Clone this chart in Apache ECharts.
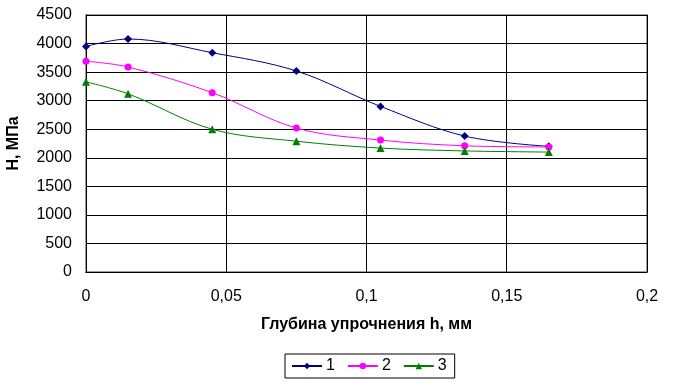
<!DOCTYPE html>
<html>
<head>
<meta charset="utf-8">
<script src="https://cdn.jsdelivr.net/npm/echarts@6/dist/echarts.min.js"></script>
<style>
  html, body { margin: 0; padding: 0; background: #fff; }
  #chart { width: 673px; height: 392px; }
</style>
</head>
<body>
<div id="chart"></div>
<script>
// depth h, mm
const depth = [0, 0.015, 0.045, 0.075, 0.105, 0.135, 0.165];
// hardness H, MPa
const series1 = [3950, 4080, 3840, 3520, 2900, 2380, 2200];
const series2 = [3690, 3590, 3140, 2520, 2310, 2210, 2190];
const series3 = [3330, 3120, 2500, 2290, 2170, 2120, 2100];
const seriesNames = ['1', '2', '3'];
const colors = ['#000080', '#ff00ff', '#008000'];
const symbols = ['diamond', 'circle', 'triangle'];

const font = 'Liberation Sans, Arial, sans-serif';

const pairs = (ys) => depth.map((x, i) => [x, ys[i]]);

const chart = echarts.init(document.getElementById('chart'));

chart.setOption({
  animation: false,
  textStyle: { fontFamily: font },
  grid: {
    left: 86, right: 26, top: 15, bottom: 120,
    containLabel: false,
    outerBoundsMode: 'none',
  },
  legend: {
    top: 354,
    left: 285,
    itemWidth: 30,
    itemHeight: 8,
    itemGap: 12,
    padding: [4, 8, 4, 6],
    borderColor: '#000',
    borderWidth: 1,
    borderRadius: 0,
    textStyle: { fontFamily: font, fontSize: 16, color: '#000', padding: [0, 0, 0, -1] },
    data: seriesNames,
  },
  xAxis: {
    type: 'value',
    min: 0,
    max: 0.2,
    interval: 0.05,
    name: 'Глубина упрочнения h, мм',
    nameLocation: 'middle',
    nameGap: 45,
    nameTextStyle: { fontFamily: font, fontSize: 16, fontWeight: 'bold', color: '#000' },
    axisLine: { lineStyle: { color: '#000', width: 1 } },
    axisTick: { show: false },
    axisLabel: {
      fontFamily: font,
      fontSize: 16,
      color: '#000',
      margin: 17,
      formatter: (v) => String(Math.round(v * 100) / 100).replace('.', ','),
    },
    splitLine: { show: true, lineStyle: { color: '#000', width: 1 } },
  },
  yAxis: {
    type: 'value',
    min: 0,
    max: 4500,
    interval: 500,
    name: 'H, МПа',
    nameLocation: 'middle',
    nameGap: 64,
    nameRotate: 90,
    nameTextStyle: { fontFamily: font, fontSize: 16, fontWeight: 'bold', color: '#000' },
    axisLine: { show: true, lineStyle: { color: '#000', width: 1 } },
    axisTick: { show: false },
    axisLabel: {
      fontFamily: font,
      fontSize: 16,
      color: '#000',
      margin: 14,
      formatter: (v) => String(v),
    },
    splitLine: { show: true, lineStyle: { color: '#000', width: 1 } },
  },
  series: [series1, series2, series3].map((ys, i) => ({
    name: seriesNames[i],
    type: 'line',
    data: pairs(ys),
    smooth: 0.35,
    symbol: symbols[i],
    symbolSize: i === 1 ? 7 : 8,
    showAllSymbol: true,
    itemStyle: { color: colors[i] },
    lineStyle: { color: colors[i], width: 1 },
  })),
  graphic: [{
    type: 'rect',
    shape: { x: 86, y: 15, width: 561, height: 257 },
    style: { fill: 'none', stroke: '#808080', lineWidth: 1.5 },
    silent: true,
    z: 0,
  }],
});
</script>
</body>
</html>
